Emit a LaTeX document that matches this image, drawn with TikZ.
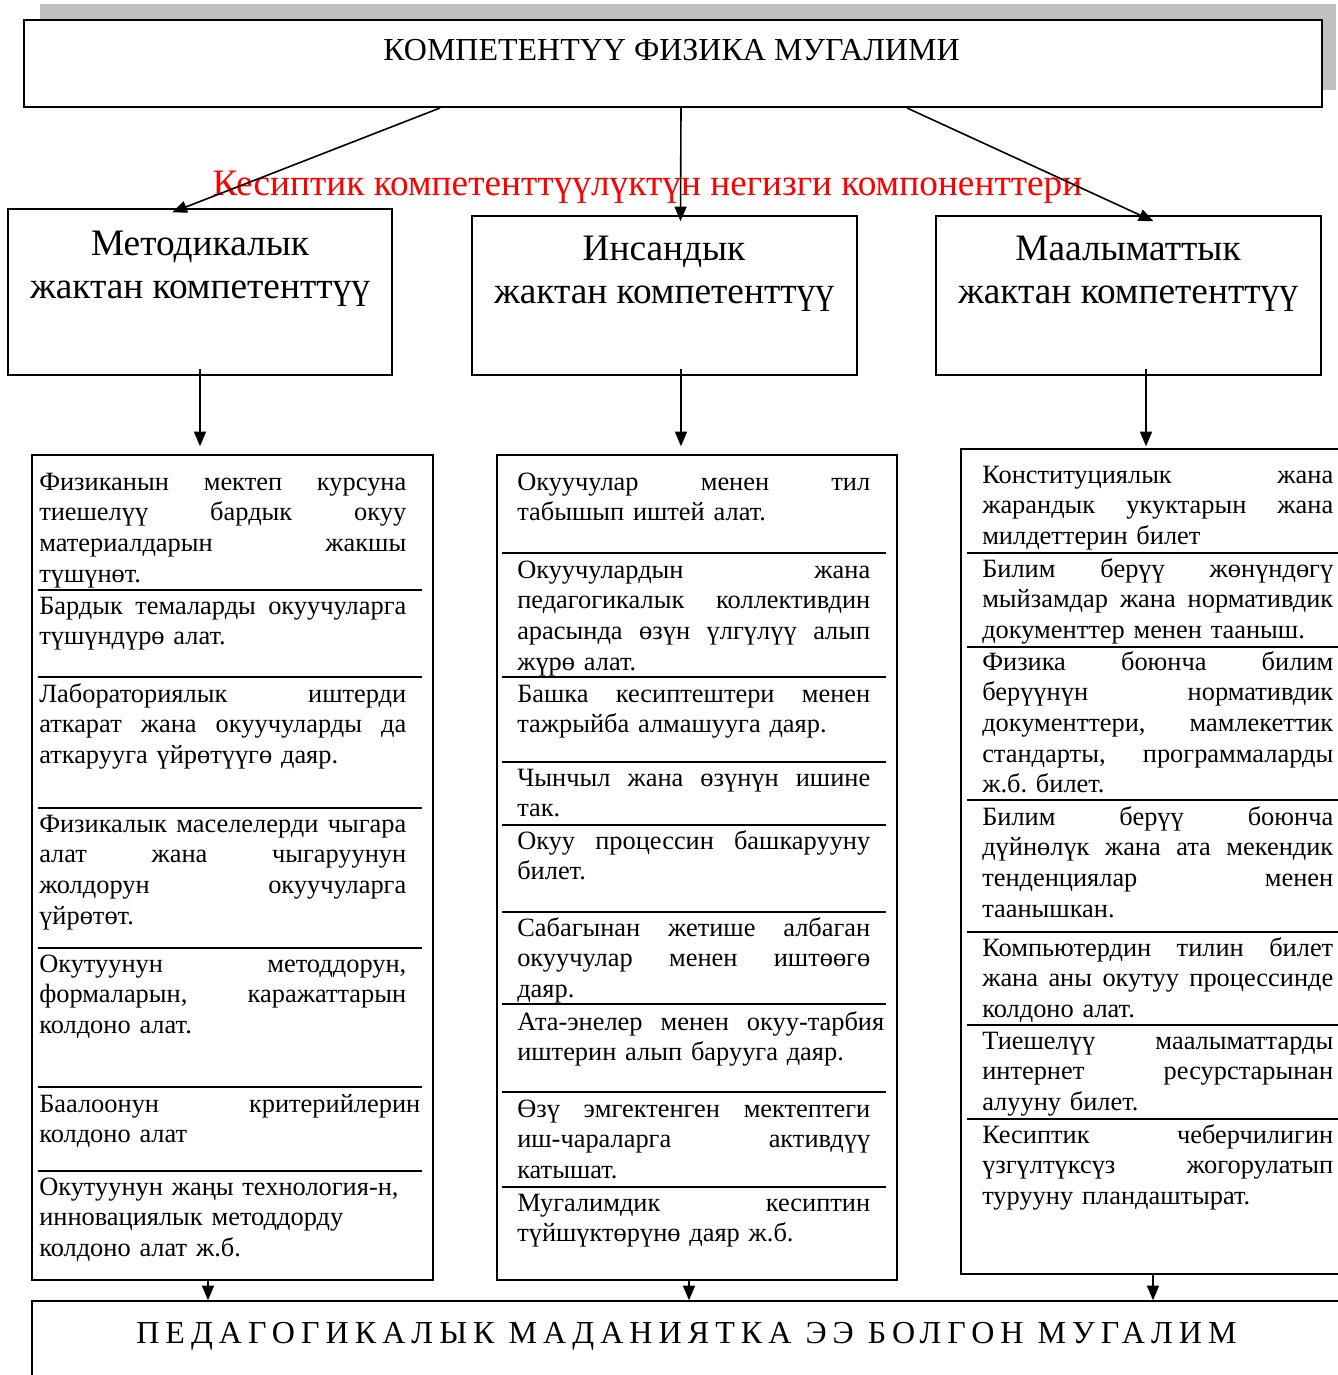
\documentclass[tikz,border=0pt]{standalone}
\usepackage{fontspec}
\setmainfont{Liberation Serif}
\usetikzlibrary{arrows.meta,calc,fit}
\def\colw{270pt}
\newcommand\jl[2][\colw]{\leavevmode\hbox to #1{\spaceskip=\fontdimen2\font plus 1fil\relax\xspaceskip=\spaceskip #2}}
\definecolor{shadowgray}{RGB}{192,192,192}
\begin{document}
\begin{tikzpicture}[x=0.75pt,y=-0.75pt,
  box/.style={draw, line width=1.1pt, inner sep=0pt},
  arr/.style={line width=1.2pt, -{Triangle[length=11pt,width=9pt]}},
  sepline/.style={line width=1.3pt},
  body/.style={anchor=north west, inner sep=0pt, align=left, font={\fontsize{19.8}{23}\selectfont\frenchspacing\parindent=0pt}},
  colL/.style={body, text width=275.25pt, execute at begin node={\def\colw{275.25pt}}},
  colM/.style={body, text width=264.75pt, execute at begin node={\def\colw{264.75pt}}},
  colR/.style={body, text width=263.25pt, execute at begin node={\def\colw{263.25pt}}},
  head/.style={anchor=north, inner sep=0pt, align=center, font=\fontsize{28}{32.25}\selectfont},
]
\useasboundingbox (0,0) rectangle (1338,1375);
\clip (0,0) rectangle (1338,1375);

% shadow and top box
\fill[shadowgray] (40,4) rectangle (1336,90);
\node[box, fill=white, line width=1.5pt, fit={(24,20) (1322,107)}] (top) {};
\node[anchor=base, inner sep=0pt, font=\fontsize{24}{28}\selectfont] (title) at (671.5,60) {КОМПЕТЕНТҮҮ ФИЗИКА МУГАЛИМИ};

% header boxes
\node[box, fit={(8,209) (392,375)}] (hm) {};
\node[box, fit={(472,216) (857,375)}] (hi) {};
\node[box, fit={(936,216) (1321,375)}] (hd) {};
\node[head] (hmt) at (200,225) {\strut Методикалык\\жактан компетенттүү};
\node[head] (hit) at (664,230) {\strut Инсандык\\жактан компетенттүү};
\node[head] (hdt) at (1128,230) {\strut Маалыматтык\\жактан компетенттүү};

% red caption
\node[anchor=base, inner sep=0pt, text=red, font=\fontsize{28}{32}\selectfont] (cap) at (647.5,195) {Кесиптик компетенттүүлүктүн негизги компоненттери};

% arrows from top
\draw[arr] ($(top.south)+(-233,0)$) -- ($(hm.north west)+(165,4)$);
\draw[arr] ($(top.south)+(8,0)$) -- ($(hi.north)+(16,6)$);
\draw[arr] ($(top.south)+(234,0)$) -- ($(hd.north)+(25,6)$);

% list boxes
\node[box, fit={(32,455) (433,1280)}] (L) {};
\node[box, fit={(497,455) (897,1280)}] (M) {};
\node[box, fit={(961,449) (1370,1274)}] (R) {};

% arrows header -> lists
\draw[arr] ($(hm.south)+(0,-7)$) -- ($(L.north)+(-32.5,-8)$);
\draw[arr] ($(hi.south)+(16.5,-7)$) -- ($(M.north)+(-16,-8)$);
\draw[arr] ($(hd.south)+(17.5,-7)$) -- ($(R.north)+(-19.5,-2)$);

% bottom box
\node[box, fit={(32,1301) (1370,1400)}] (B) {};
\node[anchor=base, inner sep=0pt, font=\fontsize{24}{28}\selectfont\addfontfeature{LetterSpace=19}] (bt) at (686.5,1343) {ПЕДАГОГИКАЛЫК МАДАНИЯТКА ЭЭ БОЛГОН МУГАЛИМ};

% arrows lists -> bottom
\draw[arr] ($(L.south)+(-24.5,0)$) -- ($(B.north)+(-493,0)$);
\draw[arr] ($(M.south)+(-8,0)$) -- ($(B.north)+(-12,0)$);
\draw[arr] ($(R.south)+(-12.5,0)$) -- ($(B.north)+(452,0)$);

% separators left
\foreach \yy in {590,677,808,948,1087,1171} \draw[sepline] (38,\yy) -- (422,\yy);
% separators middle
\foreach \yy in {553,677,762,825,912,1004,1092,1187} \draw[sepline] (502,\yy) -- (886,\yy);
% separators right
\foreach \yy in {553,647,800,932,1025,1119} \draw[sepline] (967,\yy) -- (1370,\yy);

% left column texts
\node[colL] (L1) at (39,468.5) {\strut\jl{Физиканын мектеп курсуна}\\\jl{тиешелүү бардык окуу}\\\jl{материалдарын жакшы}\\түшүнөт.};
\node[colL] (L2) at (39,592.5) {\strut\jl{Бардык темаларды окуучуларга}\\түшүндүрө алат.};
\node[colL] (L3) at (39,680.5) {\strut\jl{Лабораториялык иштерди}\\\jl{аткарат жана окуучуларды да}\\аткарууга үйрөтүүгө даяр.};
\node[colL] (L4) at (39,810.5) {\strut\jl{Физикалык маселелерди чыгара}\\\jl{алат жана чыгаруунун}\\\jl{жолдорун окуучуларга}\\үйрөтөт.};
\node[colL] (L5) at (39,950.5) {\strut\jl{Окутуунун методдорун,}\\\jl{формаларын, каражаттарын}\\колдоно алат.};
\node[colL] (L6) at (39,1090.5) {\strut\jl[285.75pt]{Баалоонун критерийлерин}\\колдоно алат};
\node[colL] (L7) at (39,1173.5) {\strut Окутуунун жаңы технология-н,\\инновациялык методдорду\\колдоно алат ж.б.};

% middle column texts
\node[colM] (M1) at (517,468.5) {\strut\jl{Окуучулар менен тил}\\табышып иштей алат.};
\node[colM] (M2) at (517,556.5) {\strut\jl{Окуучулардын жана}\\\jl{педагогикалык коллективдин}\\\jl{арасында өзүн үлгүлүү алып}\\жүрө алат.};
\node[colM] (M3) at (517,680.5) {\strut\jl{Башка кесиптештери менен}\\тажрыйба алмашууга даяр.};
\node[colM] (M4) at (517,764.5) {\strut\jl{Чынчыл жана өзүнүн ишине}\\так.};
\node[colM] (M5) at (517,827.5) {\strut\jl{Окуу процессин башкарууну}\\билет.};
\node[colM] (M6) at (517,914.5) {\strut\jl{Сабагынан жетише албаган}\\\jl{окуучулар менен иштөөгө}\\даяр.};
\node[colM] (M7) at (517,1008.5) {\strut\jl[275.25pt]{Ата-энелер менен окуу-тарбия}\\иштерин алып барууга даяр.};
\node[colM] (M8) at (517,1095.5) {\strut\jl{Өзү эмгектенген мектептеги}\\\jl{иш-чараларга активдүү}\\катышат.};
\node[colM] (M9) at (517,1189.5) {\strut\jl{Мугалимдик кесиптин}\\түйшүктөрүнө даяр ж.б.};

% right column texts
\node[colR] (R1) at (982,461.5) {\strut\jl{Конституциялык жана}\\\jl{жарандык укуктарын жана}\\милдеттерин билет};
\node[colR] (R2) at (982,555.5) {\strut\jl{Билим берүү жөнүндөгү}\\\jl{мыйзамдар жана нормативдик}\\документтер менен тааныш.};
\node[colR] (R3) at (982,648.5) {\strut\jl{Физика боюнча билим}\\\jl{берүүнүн нормативдик}\\\jl{документтери, мамлекеттик}\\\jl{стандарты, программаларды}\\ж.б. билет.};
\node[colR] (R4) at (982,803.5) {\strut\jl{Билим берүү боюнча}\\\jl{дүйнөлүк жана ата мекендик}\\\jl{тенденциялар менен}\\таанышкан.};
\node[colR] (R5) at (982,934.5) {\strut\jl{Компьютердин тилин билет}\\\jl{жана аны окутуу процессинде}\\колдоно алат.};
\node[colR] (R6) at (982,1027.5) {\strut\jl{Тиешелүү маалыматтарды}\\\jl{интернет ресурстарынан}\\алууну билет.};
\node[colR] (R7) at (982,1121.5) {\strut\jl{Кесиптик чеберчилигин}\\\jl{үзгүлтүксүз жогорулатып}\\турууну пландаштырат.};
\end{tikzpicture}
\end{document}
